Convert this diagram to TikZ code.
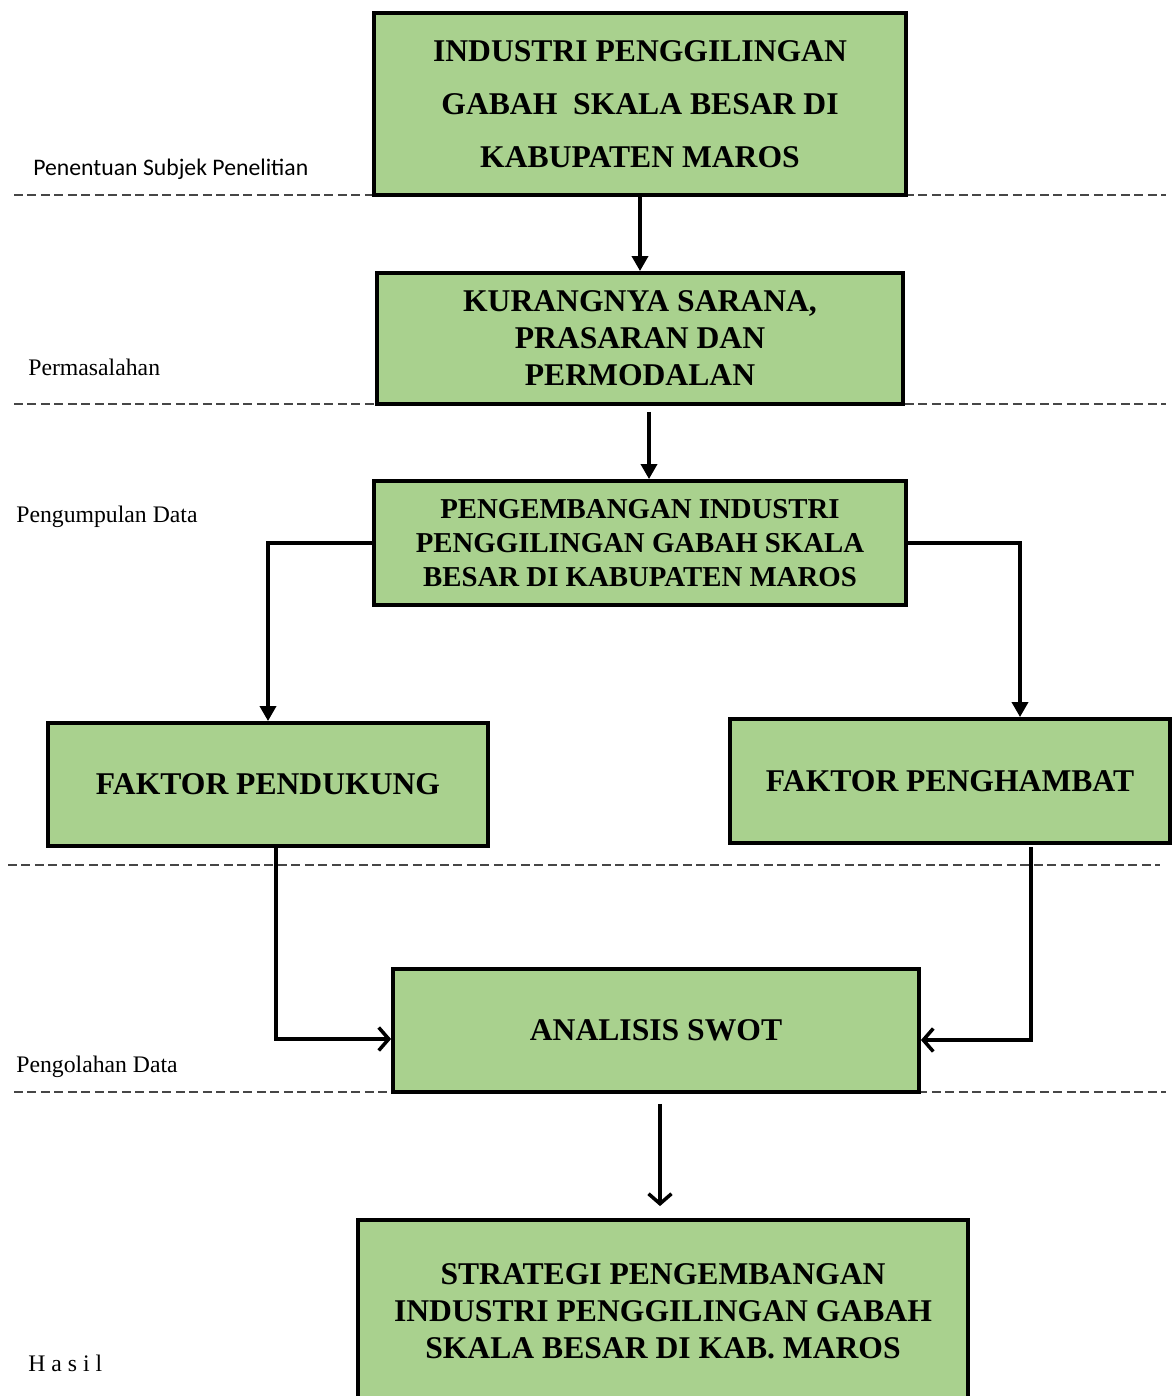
\documentclass[tikz,border=0pt]{standalone}
\usepackage{fontspec}
\setmainfont{Liberation Serif}
\newfontfamily\calibrifont{Carlito}
\definecolor{boxgreen}{RGB}{169,209,142}
\definecolor{dashgray}{RGB}{70,70,70}
\usetikzlibrary{arrows.meta,positioning,calc}

\begin{document}
\begin{tikzpicture}[
      card/.style={draw=black, line width=2.2pt, fill=boxgreen, align=center,
                   inner sep=0pt, font=\bfseries\fontsize{18}{21}\selectfont},
      arr/.style={-{Triangle[length=0.3cm,width=0.32cm]}, line width=2pt},
      barb/.style={-{Straight Barb[length=0.2cm,width=0.46cm,line width=2pt]}, line width=2pt},
      sep/.style={dashed, dash pattern=on 0.18cm off 0.09cm, line width=0.8pt, dashgray},
      lab/.style={anchor=west, inner sep=0pt, font=\fontsize{13.5}{16}\selectfont}
    ]
    \useasboundingbox (0,0) rectangle (23.48,-27.92);

    % stage separators
    \draw[sep] (0.28,-3.9) -- (23.32,-3.9);
    \draw[sep] (0.28,-8.08) -- (23.32,-8.08);
    \draw[sep] (0.16,-17.3) -- (23.2,-17.3);
    \draw[sep] (0.28,-21.84) -- (23.32,-21.84);

    % stage labels
    \node[lab, font=\calibrifont\fontsize{13.5}{16}\selectfont] (l1) at (0.66,-3.38) {Penentuan Subjek Penelitian};
    \node[lab] (l2) at (0.56,-7.34) {Permasalahan};
    \node[lab] (l3) at (0.32,-10.34) {Pengumpulan Data};
    \node[lab] (l4) at (0.32,-21.34) {Pengolahan Data};
    \node[lab] (l5) at (0.56,-27.26) {H a s i l};

    % boxes
    \node[card, minimum width=10.64cm, minimum height=3.64cm,
          font=\bfseries\fontsize{18}{30}\selectfont] (c1) at (12.8,-2.08) {%
      INDUSTRI PENGGILINGAN\\
      GABAH\ \ SKALA BESAR DI\\
      KABUPATEN MAROS};
    \node[card, minimum width=10.52cm, minimum height=2.62cm] (c2) at (12.8,-6.77) {%
      KURANGNYA SARANA,\\
      PRASARAN DAN\\
      PERMODALAN};
    \node[card, minimum width=10.64cm, minimum height=2.48cm,
          font=\bfseries\fontsize{16.4}{19.2}\selectfont] (c3) at (12.8,-10.86) {%
      PENGEMBANGAN INDUSTRI\\
      PENGGILINGAN GABAH SKALA\\
      BESAR DI KABUPATEN MAROS};
    \node[card, minimum width=8.8cm, minimum height=2.46cm] (c4) at (5.36,-15.69) {FAKTOR PENDUKUNG};
    \node[card, minimum width=8.8cm, minimum height=2.48cm] (c5) at (19.0,-15.62) {FAKTOR PENGHAMBAT};
    \node[card, minimum width=10.52cm, minimum height=2.46cm] (c6) at (13.12,-20.61) {ANALISIS SWOT};
    \node[card, minimum width=12.2cm, minimum height=3.64cm] (c7) at (13.26,-26.22) {%
      STRATEGI PENGEMBANGAN\\
      INDUSTRI PENGGILINGAN GABAH\\
      SKALA BESAR DI KAB. MAROS};

    % connector points
    \coordinate (p2) at ($(c2.south)+(0.18,-0.12)$);
    \coordinate (p5) at ($(c5.north)+(1.4,0)$);
    \coordinate (p4) at ($(c4.south)+(0.16,0)$);
    \coordinate (q5) at ($(c5.south)+(1.62,-0.04)$);
    \coordinate (p6) at ($(c6.south)+(0.08,-0.2)$);

    % connectors
    \draw[arr] (c1.south) -- (c2.north);
    \draw[arr] (p2) -- (p2 |- c3.north);
    \draw[arr] (c3.west) -| (c4.north);
    \draw[arr] (c3.east) -| (p5);
    \draw[barb] (p4) |- ($(c6.west)+(0,-0.17)$);
    \draw[barb] (q5) |- ($(c6.east)+(0,-0.19)$);
    \draw[barb] (p6) -- ($(p6 |- c7.north)+(0,0.24)$);
  \end{tikzpicture}
\end{document}
